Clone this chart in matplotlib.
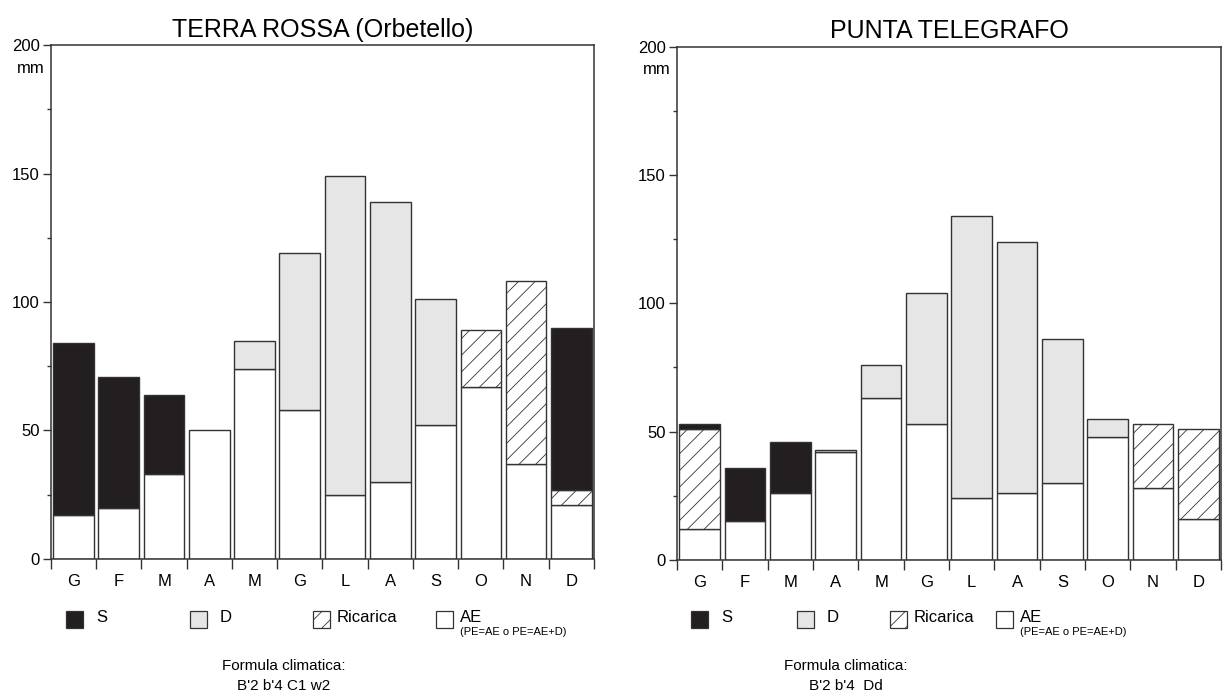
import matplotlib.pyplot as plt
from matplotlib.patches import Rectangle
from matplotlib.ticker import MultipleLocator
import numpy as np

plt.rcParams['font.family'] = ['Liberation Sans', 'DejaVu Sans']
plt.rcParams['hatch.linewidth'] = 0.6
plt.rcParams['hatch.color'] = '#333333'

months = ['G', 'F', 'M', 'A', 'M', 'G', 'L', 'A', 'S', 'O', 'N', 'D']

# Terra Rossa (Orbetello), mm
tr_ae = [17, 20, 33, 50, 74, 58, 25, 30, 52, 67, 37, 21]
tr_ric = [0, 0, 0, 0, 0, 0, 0, 0, 0, 22, 71, 6]
tr_s = [67, 51, 31, 0, 0, 0, 0, 0, 0, 0, 0, 63]
tr_d = [0, 0, 0, 0, 11, 61, 124, 109, 49, 0, 0, 0]

# Punta Telegrafo, mm
pt_ae = [12, 15, 26, 42, 63, 53, 24, 26, 30, 48, 28, 16]
pt_ric = [39, 0, 0, 0, 0, 0, 0, 0, 0, 0, 25, 35]
pt_s = [2, 21, 20, 0, 0, 0, 0, 0, 0, 0, 0, 0]
pt_d = [0, 0, 0, 1, 13, 51, 110, 98, 56, 7, 0, 0]

stations = [
    ('TERRA ROSSA (Orbetello)', tr_ae, tr_ric, tr_s, tr_d, 'B\'2 b\'4 C1 w2'),
    ('PUNTA TELEGRAFO', pt_ae, pt_ric, pt_s, pt_d, 'B\'2 b\'4  Dd'),
]

S_COL = '#231f20'
D_COL = '#e6e6e6'
EDGE = '#333333'

fig = plt.figure(figsize=(12.25, 6.99), dpi=100)
axes_rects = [[0.0416, 0.2003, 0.4433, 0.7353], [0.5527, 0.1989, 0.4441, 0.7345]]
legend_x = [[66, 190, 313, 436], [691, 797, 890, 996]]
formula_x = [284, 846]


def draw_station(ax, title, ae, ric, s, d):
    x = np.arange(12) + 0.5
    w = 0.9
    ae = np.array(ae)
    ric = np.array(ric)
    s = np.array(s)
    d = np.array(d)
    kw = dict(width=w, edgecolor=EDGE, linewidth=1.0)
    ax.bar(x, ae, color='white', **kw)
    m = ric > 0
    ax.bar(x[m], ric[m], bottom=ae[m], color='white', hatch='//', **kw)
    m = s > 0
    ax.bar(x[m], s[m], bottom=(ae + ric)[m], color=S_COL, **kw)
    m = d > 0
    ax.bar(x[m], d[m], bottom=(ae + ric)[m], color=D_COL, **kw)

    ax.set_xlim(0, 12)
    ax.set_ylim(0, 200)
    ax.set_xticks(x)
    ax.set_xticklabels(months, fontsize=12)
    ax.set_xticks(np.arange(13), minor=True)
    ax.tick_params(axis='x', which='major', length=0, pad=11)
    ax.tick_params(axis='x', which='minor', length=7, width=1, color=EDGE)
    ax.yaxis.set_major_locator(MultipleLocator(50))
    ax.yaxis.set_minor_locator(MultipleLocator(25))
    ax.tick_params(axis='y', which='major', length=6, width=1, labelsize=12, color=EDGE, pad=2)
    ax.tick_params(axis='y', which='minor', length=3, width=1, color=EDGE)
    for sp in ax.spines.values():
        sp.set_color(EDGE)
        sp.set_linewidth(1.1)
    ax.text(-0.012, 0.955, 'mm', transform=ax.transAxes, ha='right', va='center', fontsize=12)
    ax.set_title(title, fontsize=18, pad=6)


for i, (title, ae, ric, s, d, formula) in enumerate(stations):
    ax = fig.add_axes(axes_rects[i])
    draw_station(ax, title, ae, ric, s, d)

    # legend boxes drawn in figure pixels
    W, H = 1225, 699
    sq = 17
    y_top = 611
    styles = [dict(facecolor=S_COL), dict(facecolor=D_COL),
              dict(facecolor='white', hatch='//'), dict(facecolor='white')]
    labels = ['S', 'D', 'Ricarica', 'AE']
    for lx, st, lab in zip(legend_x[i], styles, labels):
        fig.add_artist(Rectangle((lx / W, 1 - (y_top + sq) / H), sq / W, sq / H,
                                 transform=fig.transFigure, edgecolor=EDGE,
                                 linewidth=0.9, **st))
        off = 13 if lab in ('S', 'D') else 7
        fig.text((lx + sq + off) / W, 1 - (y_top - 1) / H, lab,
                 ha='left', va='top', fontsize=12)
    fig.text((legend_x[i][3] + sq + 7) / W, 1 - 627 / H, '(PE=AE o PE=AE+D)',
             ha='left', va='top', fontsize=8)

    fig.text(formula_x[i] / W, 1 - 666 / H, 'Formula climatica:',
             ha='center', va='center', fontsize=11)
    fig.text(formula_x[i] / W, 1 - 686 / H, formula,
             ha='center', va='center', fontsize=11)

fig.savefig('out.png', dpi=100)
